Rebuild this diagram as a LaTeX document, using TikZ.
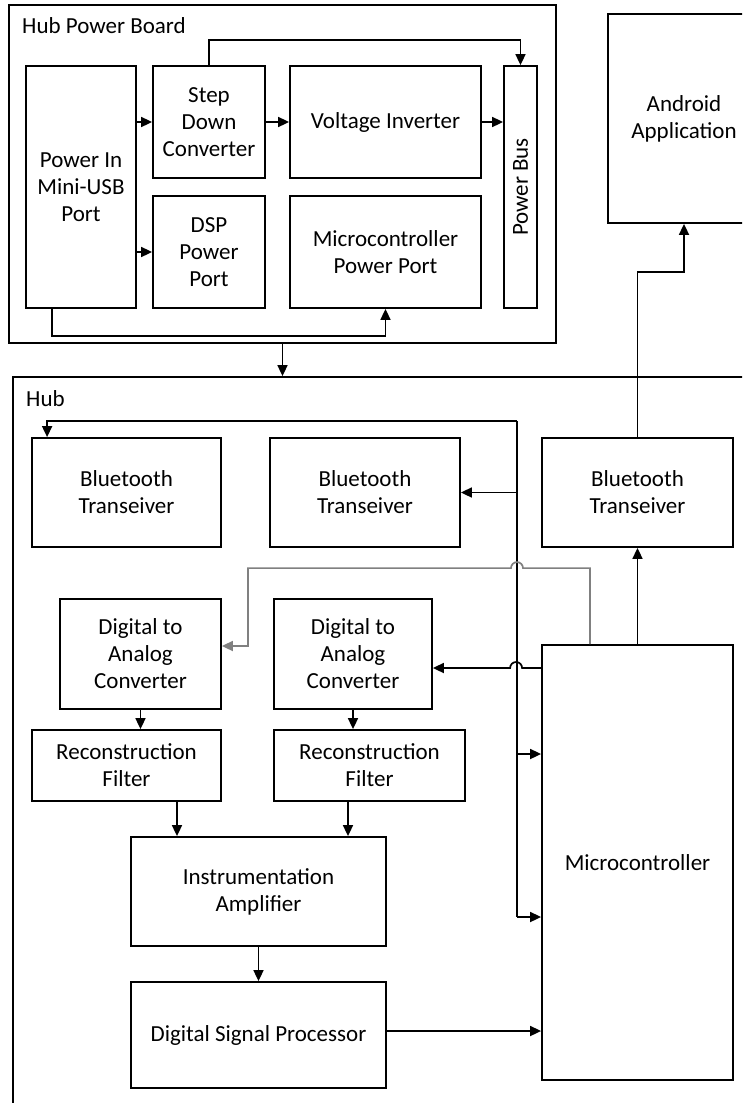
\documentclass[tikz,border=0pt]{standalone}
\usepackage{fontspec}
\setmainfont{Carlito}
\usetikzlibrary{arrows.meta,calc}

\begin{document}
\begin{tikzpicture}[x=1pt,y=-1pt,
  every node/.style={font=\fontsize{23}{27}\selectfont},
  blk/.style={draw, line width=1.8pt, align=center, inner sep=2pt},
  wire/.style={line width=1.7pt},
  arr/.style={wire, -{Triangle[length=11pt,width=10pt]}},
  graywire/.style={arr, color=gray}]
\useasboundingbox (0,0) rectangle (742,1103);
\fill[white] (0,0) rectangle (742,1103);
\clip (0,0) rectangle (742,1103);

%Hub Power Board
\node[blk, minimum width=547pt, minimum height=338pt] (hpb) at (282.5,174) {};
\node[anchor=base west, inner sep=0pt] (hpblabel) at (22,33) {Hub Power Board};
\node[blk, minimum width=110pt, minimum height=242pt] (pin) at (81,187) {Power In\\Mini-USB\\Port};
\node[blk, minimum width=112pt, minimum height=112pt] (sdc) at (209,122) {Step\\Down\\Converter};
\node[blk, minimum width=191pt, minimum height=112pt] (vinv) at (385.5,122) {Voltage Inverter};
\node[blk, minimum width=33pt, minimum height=242pt] (pbus) at (520.5,187) {};
\node[rotate=90] (pbuslabel) at (pbus.center) {Power Bus};
\node[blk, minimum width=112pt, minimum height=112pt] (dspp) at (209,252) {DSP\\Power\\Port};
\node[blk, minimum width=191pt, minimum height=112pt] (mpp) at (385.5,252) {Microcontroller\\Power Port};

%Android
\node[blk, minimum width=152pt, minimum height=209pt] (android) at (684,118.5) {Android\\Application};

%Hub
\node[blk, minimum width=767pt, minimum height=753pt] (hub) at (396.5,753.5) {};
\node[anchor=base west, inner sep=0pt] (hublabel) at (26,406) {Hub};
\node[blk, minimum width=189pt, minimum height=109pt] (bt1) at (126.5,492.5) {Bluetooth\\Transeiver};
\node[blk, minimum width=190pt, minimum height=109pt] (bt2) at (365,492.5) {Bluetooth\\Transeiver};
\node[blk, minimum width=191pt, minimum height=109pt] (bt3) at (637.5,492.5) {Bluetooth\\Transeiver};
\node[blk, minimum width=161pt, minimum height=110pt] (dac1) at (140.5,654) {Digital to\\Analog\\Converter};
\node[blk, minimum width=158pt, minimum height=110pt] (dac2) at (353,654) {Digital to\\Analog\\Converter};
\node[blk, minimum width=189pt, minimum height=71pt] (rf1) at (126.5,765.5) {Reconstruction\\Filter};
\node[blk, minimum width=191pt, minimum height=71pt] (rf2) at (369.5,765.5) {Reconstruction\\Filter};
\node[blk, minimum width=255pt, minimum height=109pt] (ia) at (258.5,891.5) {Instrumentation\\Amplifier};
\node[blk, minimum width=255pt, minimum height=106pt] (dsp) at (258.5,1035) {Digital Signal Processor};
\node[blk, minimum width=191pt, minimum height=435pt] (mcu) at (637.5,862.5) {Microcontroller};

% power board wiring
\draw[arr] (sdc.north) -- ++(0,-25) -| (pbus.north);
\draw[arr] (pin.east |- sdc.west) -- (sdc.west);
\draw[arr] (pin.east |- dspp.west) -- (dspp.west);
\draw[arr] (sdc.east) -- (vinv.west);
\draw[arr] (vinv.east) -- (pbus.west |- vinv.east);
\draw[arr] ([xshift=-29pt]pin.south) -- ++(0,27) -| (mpp.south);
\draw[arr] (hpb.south) -- (hpb.south |- hub.north);

% bluetooth links
\draw[arr] (bt3.north) -- ++(0,-165) -| (android.south);
\draw[arr] (mcu.north) -- (bt3.south);

% bus line
\coordinate (bus) at (517,421);
\coordinate (busA) at (517,754);
\coordinate (busB) at (517,917);
\draw[arr] (bus) -| ([xshift=16pt]bt1.north west);
\draw[wire] (bus) -- (busB);
\draw[arr] (bus |- bt2.east) -- (bt2.east);
\draw[arr] (busA) -- (busA -| mcu.west);
\draw[arr] (busB) -- (busB -| mcu.west);

% microcontroller to DACs (hops over bus)
\coordinate (dacin) at ($(dac2.east)+(0,14)$);
\draw[arr] (mcu.west |- dacin) -- ++(-19,0) arc[start angle=0, end angle=-180, radius=6] -- (dacin);
\coordinate (dacgray) at ($(dac1.east)+(0,-8)$);
\draw[graywire] ([xshift=-47.5pt]mcu.north) -- ++(0,-76) -- ++(-67,0) arc[start angle=0, end angle=-180, radius=6] -- ++(-263,0) |- (dacgray);

% signal chain
\draw[arr] (dac1.south) -- (dac1.south |- rf1.north);
\draw[arr] (dac2.south) -- (dac2.south |- rf2.north);
\draw[arr] ([xshift=50.5pt]rf1.south) -- ([xshift=50.5pt]rf1.south |- ia.north);
\draw[arr] ([xshift=-21.5pt]rf2.south) -- ([xshift=-21.5pt]rf2.south |- ia.north);
\draw[arr] (ia.south) -- (dsp.north);
\draw[arr] ([yshift=4pt]dsp.east) -- ([yshift=4pt]dsp.east -| mcu.west);

\end{tikzpicture}
\end{document}
